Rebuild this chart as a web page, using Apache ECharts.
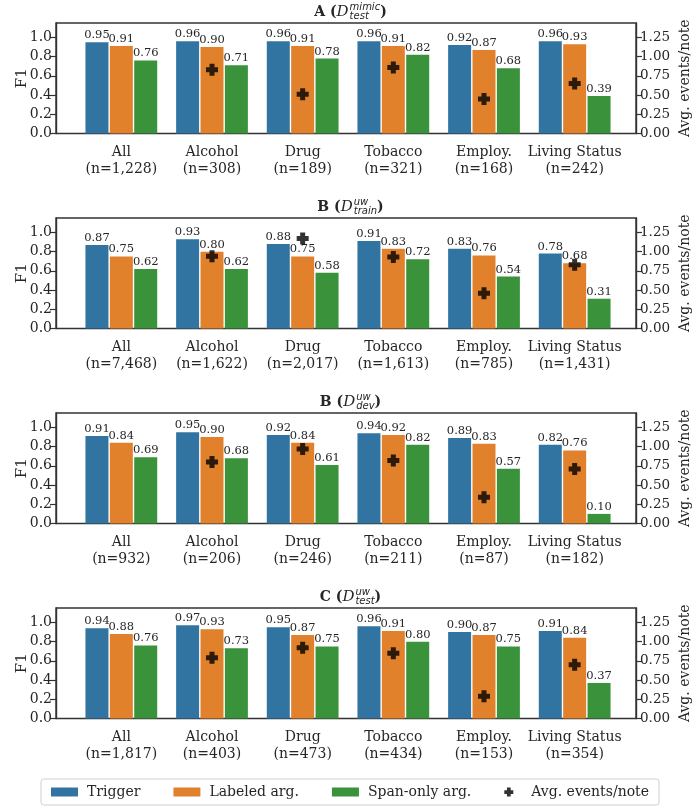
<!DOCTYPE html>
<html>
<head>
<meta charset="utf-8">
<script src="https://cdn.jsdelivr.net/npm/echarts@6/dist/echarts.min.js"></script>
<style>
  html, body { margin: 0; padding: 0; background: #fff; }
  #chart { width: 700px; height: 809px; }
</style>
</head>
<body>
<div id="chart"></div>
<script>
  // ---- data ----
  const categories = ['All', 'Alcohol', 'Drug', 'Tobacco', 'Employ.', 'Living Status'];
  const seriesNames = ['Trigger', 'Labeled arg.', 'Span-only arg.', 'Avg. events/note'];

  // A (mimic test)
  const countsA   = ['1,228', '308', '189', '321', '168', '242'];
  const triggerA  = [0.95, 0.96, 0.96, 0.96, 0.92, 0.96];
  const labeledA  = [0.91, 0.90, 0.91, 0.91, 0.87, 0.93];
  const spanA     = [0.76, 0.71, 0.78, 0.82, 0.68, 0.39];
  const avgA      = ['-', 0.83, 0.51, 0.86, 0.45, 0.65];

  // B (uw train)
  const countsB   = ['7,468', '1,622', '2,017', '1,613', '785', '1,431'];
  const triggerB  = [0.87, 0.93, 0.88, 0.91, 0.83, 0.78];
  const labeledB  = [0.75, 0.80, 0.75, 0.83, 0.76, 0.68];
  const spanB     = [0.62, 0.62, 0.58, 0.72, 0.54, 0.31];
  const avgB      = ['-', 0.94, 1.17, 0.93, 0.46, 0.83];

  // B (uw dev)
  const countsBd  = ['932', '206', '246', '211', '87', '182'];
  const triggerBd = [0.91, 0.95, 0.92, 0.94, 0.89, 0.82];
  const labeledBd = [0.84, 0.90, 0.84, 0.92, 0.83, 0.76];
  const spanBd    = [0.69, 0.68, 0.61, 0.82, 0.57, 0.10];
  const avgBd     = ['-', 0.80, 0.97, 0.82, 0.34, 0.71];

  // C (uw test)
  const countsC   = ['1,817', '403', '473', '434', '153', '354'];
  const triggerC  = [0.94, 0.97, 0.95, 0.96, 0.90, 0.91];
  const labeledC  = [0.88, 0.93, 0.87, 0.91, 0.87, 0.84];
  const spanC     = [0.76, 0.73, 0.75, 0.80, 0.75, 0.37];
  const avgC      = ['-', 0.79, 0.92, 0.85, 0.29, 0.70];

  const f1Ticks  = [0, 0.2, 0.4, 0.6, 0.8, 1.0];
  const avgTicks = [0, 0.25, 0.5, 0.75, 1.0, 1.25];

  const panels = [
    { letter: 'A', sup: 'mimic', sub: 'test',  counts: countsA,  t: triggerA,  l: labeledA,  s: spanA,  avg: avgA },
    { letter: 'B', sup: 'uw',    sub: 'train', counts: countsB,  t: triggerB,  l: labeledB,  s: spanB,  avg: avgB },
    { letter: 'B', sup: 'uw',    sub: 'dev',   counts: countsBd, t: triggerBd, l: labeledBd, s: spanBd, avg: avgBd },
    { letter: 'C', sup: 'uw',    sub: 'test',  counts: countsC,  t: triggerC,  l: labeledC,  s: spanC,  avg: avgC }
  ];

  // ---- layout / style ----
  const colors = ['#3274a1', '#e1812c', '#3a923a', '#000'];
  const serif = "'DejaVu Serif', serif";
  const textColor = '#262626';
  const tops = [23, 218, 413, 608];
  const panelH = 110.5;
  const boxL = 56, boxR = 645;        // frame
  const dataL = 76, dataR = 620;      // category band area
  const f1Max = 1.15, avgMax = 1.15 * 1.25;
  const plusPath = 'path://M3.5,0H8.5V3.5H12V8.5H8.5V12H3.5V8.5H0V3.5H3.5Z';

  const chart = echarts.init(document.getElementById('chart'));

  const grid = [], xAxis = [], yAxis = [], series = [], graphic = [];

  // measuring helper for the titles
  const ctx = document.createElement('canvas').getContext('2d');
  function tw(font, s) { ctx.font = font; return ctx.measureText(s).width; }

  panels.forEach((p, i) => {
    const top = tops[i];
    // frame grid (box + y axes)
    grid.push({ left: boxL, width: boxR - boxL, top: top, height: panelH,
      show: true, borderColor: '#333', borderWidth: 1.4, backgroundColor: 'transparent' });
    // data grid (bars)
    grid.push({ left: dataL, width: dataR - dataL, top: top, height: panelH });

    xAxis.push({ gridIndex: 2 * i, type: 'value', show: false, min: 0, max: 1 });
    xAxis.push({
      gridIndex: 2 * i + 1, type: 'category',
      data: categories.map((c, k) => c + '\n(n=' + p.counts[k] + ')'),
      axisLine: { show: false },
      axisTick: { show: false },
      axisLabel: { interval: 0, color: textColor, fontFamily: serif, fontSize: 14, lineHeight: 17, margin: 10 }
    });

    // frame y axes (visible)
    yAxis.push({
      gridIndex: 2 * i, type: 'value', position: 'left', min: 0, max: f1Max,
      name: 'F1', nameLocation: 'middle', nameRotate: 90, nameGap: 34, nameMoveOverlap: false,
      nameTextStyle: { color: textColor, fontFamily: serif, fontSize: 15, verticalAlign: 'middle' },
      axisLine: { show: true, lineStyle: { color: '#333', width: 1.4 } },
      axisTick: { show: true, length: 6, customValues: f1Ticks, lineStyle: { color: '#333', width: 1.2 } },
      axisLabel: { customValues: f1Ticks, color: textColor, fontFamily: serif, fontSize: 14, margin: 4,
        formatter: v => v.toFixed(1) },
      splitLine: { show: false }
    });
    yAxis.push({
      gridIndex: 2 * i, type: 'value', position: 'right', min: 0, max: avgMax,
      name: 'Avg. events/note', nameLocation: 'middle', nameRotate: 90, nameGap: 49, nameMoveOverlap: false,
      nameTextStyle: { color: textColor, fontFamily: serif, fontSize: 14, verticalAlign: 'middle' },
      axisLine: { show: true, lineStyle: { color: '#333', width: 1.4 } },
      axisTick: { show: true, length: 6, customValues: avgTicks, lineStyle: { color: '#333', width: 1.2 } },
      axisLabel: { customValues: avgTicks, color: textColor, fontFamily: serif, fontSize: 13.5, margin: 4,
        formatter: v => v.toFixed(2) },
      splitLine: { show: false }
    });
    // data y axes (hidden, same scales)
    yAxis.push({ gridIndex: 2 * i + 1, type: 'value', min: 0, max: f1Max, show: false, splitLine: { show: false } });
    yAxis.push({ gridIndex: 2 * i + 1, type: 'value', min: 0, max: avgMax, show: false, splitLine: { show: false } });

    [p.t, p.l, p.s].forEach((vals, k) => {
      series.push({
        name: seriesNames[k], type: 'bar',
        xAxisIndex: 2 * i + 1, yAxisIndex: 4 * i + 2,
        data: vals, barWidth: 23, barGap: '6%',
        itemStyle: { color: colors[k] },
        label: { show: true, position: 'top', distance: 1, color: textColor,
          fontFamily: serif, fontSize: 11.5, formatter: d => d.value.toFixed(2) },
        emphasis: { disabled: true }
      });
    });
    series.push({
      name: seriesNames[3], type: 'scatter',
      xAxisIndex: 2 * i + 1, yAxisIndex: 4 * i + 3,
      data: p.avg, symbol: plusPath, symbolSize: 12,
      itemStyle: { color: '#000' }, z: 5,
      emphasis: { disabled: true }
    });

    // title: "X (D^sup_sub)"
    const fMain = 'bold 14px ' + serif;
    const fD = 'italic 15px ' + serif;
    const fScr = 'italic 10px DejaVu Sans, sans-serif';
    const s1 = p.letter + ' (';
    const w1 = tw(fMain, s1), wD = tw(fD, 'D') + 1;
    const wS = Math.max(tw(fScr, p.sup), tw(fScr, p.sub));
    const wP = tw(fMain, ')');
    const total = w1 + wD + wS + wP;
    const cx = (boxL + boxR) / 2;
    const x0 = cx - total / 2;
    const cy = top - 11;
    const base = { fill: textColor, verticalAlign: 'middle', align: 'left' };
    graphic.push({ type: 'text', x: x0, y: cy, style: Object.assign({ text: s1, font: fMain }, base) });
    graphic.push({ type: 'text', x: x0 + w1, y: cy, style: Object.assign({ text: 'D', font: fD }, base) });
    graphic.push({ type: 'text', x: x0 + w1 + wD, y: cy - 5, style: Object.assign({ text: p.sup, font: fScr }, base) });
    graphic.push({ type: 'text', x: x0 + w1 + wD, y: cy + 4, style: Object.assign({ text: p.sub, font: fScr }, base) });
    graphic.push({ type: 'text', x: x0 + w1 + wD + wS, y: cy, style: Object.assign({ text: ')', font: fMain }, base) });
  });

  chart.setOption({
    animation: false,
    color: colors,
    textStyle: { fontFamily: serif },
    grid: grid,
    xAxis: xAxis,
    yAxis: yAxis,
    legend: {
      left: 'center', top: 779,
      data: [
        { name: 'Trigger', icon: 'rect' },
        { name: 'Labeled arg.', icon: 'rect' },
        { name: 'Span-only arg.', icon: 'rect' },
        { name: 'Avg. events/note', icon: plusPath }
      ],
      itemWidth: 27, itemHeight: 9, itemGap: 33,
      textStyle: { color: textColor, fontFamily: serif, fontSize: 14, padding: [0, 0, 0, 4] },
      padding: [6, 10], borderColor: '#d0d0d0', borderWidth: 1, borderRadius: 3,
      selectedMode: false
    },
    graphic: graphic,
    series: series
  });
</script>
</body>
</html>
